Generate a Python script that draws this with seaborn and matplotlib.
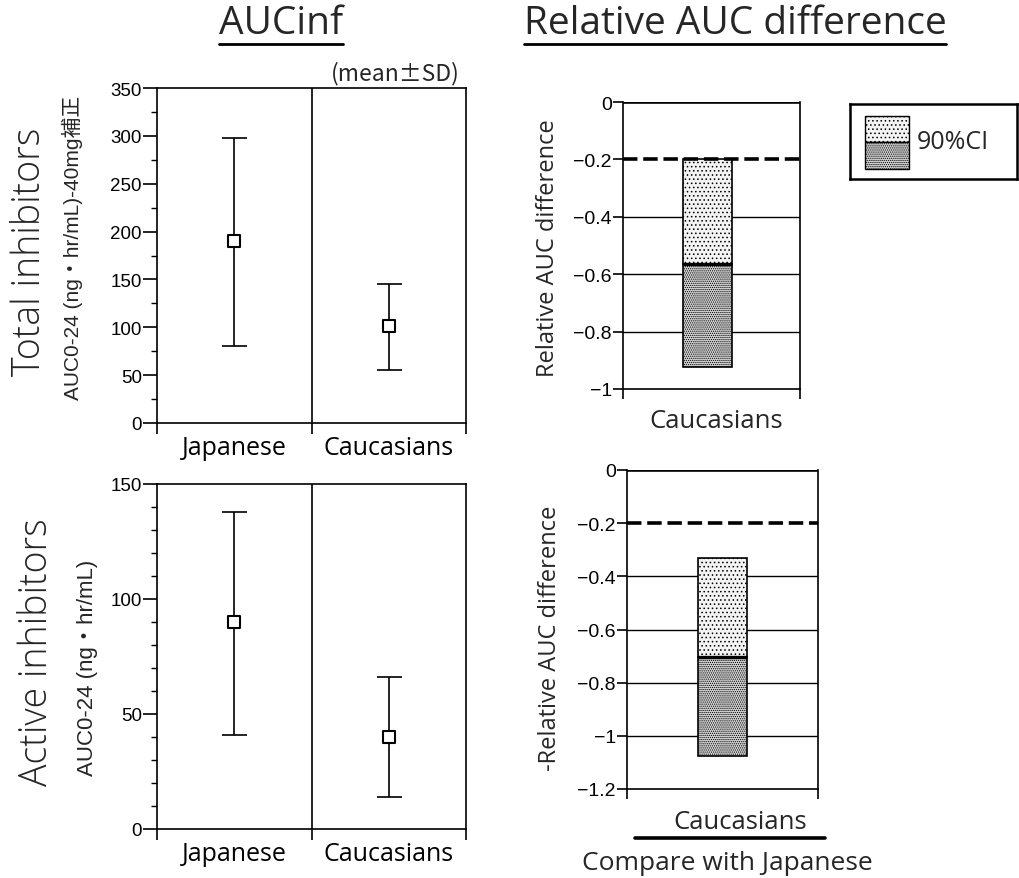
import numpy as np
import pandas as pd
import matplotlib
matplotlib.use("Agg")
import matplotlib.pyplot as plt
import seaborn as sns
from matplotlib.patches import Rectangle

# ---------------- data ----------------
groups = ["Japanese", "Caucasians"]
total_mean = [190, 101]
total_sd_low = [80, 55]
total_sd_high = [298, 145]
active_mean = [90, 40]
active_sd_low = [41, 14]
active_sd_high = [138, 66]

ci_group = ["Caucasians"]
total_ci_upper = [-0.20]
total_ci_point = [-0.565]
total_ci_lower = [-0.925]
active_ci_upper = [-0.33]
active_ci_point = [-0.705]
active_ci_lower = [-1.075]

total_yticks = [0, 50, 100, 150, 200, 250, 300, 350]
active_yticks = [0, 50, 100, 150]
rel_top_yticks = [0, -0.2, -0.4, -0.6, -0.8, -1]
rel_bot_yticks = [0, -0.2, -0.4, -0.6, -0.8, -1, -1.2]

# ---------------- style ----------------
sns.set_theme(style="white")
plt.rcParams["font.family"] = ["DejaVu Sans", "Noto Sans CJK JP"]
plt.rcParams["hatch.color"] = "#8a8a8a"
plt.rcParams["hatch.linewidth"] = 0.6
plt.rcParams["axes.edgecolor"] = "black"
plt.rcParams["xtick.color"] = "black"
plt.rcParams["ytick.color"] = "black"

W, H = 1020, 879
fig = plt.figure(figsize=(W / 100, H / 100), dpi=100)
fig.patch.set_facecolor("white")


def fx(x):
    return x / W


def fy(y):
    return 1 - y / H


def add_ax(l, t, r, b):
    return fig.add_axes([fx(l), fy(b), fx(r) - fx(l), fy(t) - fy(b)])


ui_font = ["Open Sans", "DejaVu Sans"]
tick_font = ["Liberation Sans", "DejaVu Sans"]
narrow_font = ["Liberation Sans Narrow", "Liberation Sans", "Noto Sans CJK JP"]


def left_panel(ax, means, lo, hi, ylim, yticks, minor_step):
    df = pd.DataFrame({"group": groups, "mean": means, "lo": lo, "hi": hi})
    df["x"] = np.arange(len(groups))
    ax.errorbar(df["x"], df["mean"],
                yerr=[df["mean"] - df["lo"], df["hi"] - df["mean"]],
                fmt="none", ecolor="black", elinewidth=1.2, capsize=9,
                capthick=1.2, zorder=2)
    sns.scatterplot(data=df, x="x", y="mean", ax=ax, marker="s", s=70,
                    color="white", edgecolor="black", linewidth=1.5,
                    zorder=3, legend=False)
    ax.set_xlim(-0.5, len(groups) - 0.5)
    ax.set_ylim(*ylim)
    ax.axvline(0.5, color="black", lw=1.2)
    ax.set_xticks([-0.5, 0.5, 1.5])
    ax.set_xticklabels([])
    ax.set_xticks(df["x"], minor=True)
    ax.set_xticklabels(groups, minor=True, fontsize=18, family=ui_font)
    ax.tick_params(axis="x", which="major", direction="out", length=8, width=1.2,
                   bottom=True)
    ax.tick_params(axis="x", which="minor", length=0, pad=9, bottom=True)
    ax.set_yticks(yticks)
    ax.set_yticklabels([str(v) for v in yticks], fontsize=13.5, family=tick_font)
    ax.set_yticks(np.arange(ylim[0], ylim[1] + 0.1, minor_step), minor=True)
    ax.tick_params(axis="y", which="major", direction="out", length=10, width=1.2,
                   left=True, pad=1)
    ax.tick_params(axis="y", which="minor", direction="out", length=4, width=1.0,
                   left=True)
    for s in ax.spines.values():
        s.set_linewidth(1.2)
        s.set_color("black")
    ax.set_xlabel("")
    ax.set_ylabel("")


def right_panel(ax, upper, point, lower, ylim, yticks, xlim):
    df = pd.DataFrame({"group": ci_group, "upper": upper, "point": point,
                       "lower": lower})
    df["x"] = np.arange(len(ci_group))
    for yv in yticks:
        if yv not in (0, -0.2, ylim[0]):
            ax.axhline(yv, color="black", lw=1.0, zorder=1)
    ax.axhline(0, color="black", lw=2.6, zorder=4)
    ax.axhline(-0.2, color="black", lw=2.6, ls=(0, (4, 1.6)), zorder=4)
    ax.bar(df["x"], df["point"] - df["upper"], bottom=df["upper"], width=0.5,
           facecolor="#f3f3f3", edgecolor="black", hatch="....", lw=1.2, zorder=3)
    ax.bar(df["x"], df["lower"] - df["point"], bottom=df["point"], width=0.5,
           facecolor="#d4d4d4", edgecolor="black", hatch="........", lw=1.2,
           zorder=3)
    ax.hlines(df["point"], df["x"] - 0.25, df["x"] + 0.25, color="black",
              lw=2.4, zorder=5)
    ax.set_xlim(*xlim)
    ax.set_ylim(*ylim)
    ax.set_yticks(yticks)
    ax.set_yticklabels([("0" if v == 0 else ("%g" % v).replace("-", "\u2212"))
                        for v in yticks], fontsize=14, family=tick_font)
    ax.tick_params(axis="y", direction="out", length=7, width=1.2, left=True,
                   pad=1)
    ax.set_xticks(list(xlim))
    ax.set_xticklabels([])
    ax.tick_params(axis="x", direction="out", length=7, width=1.2, bottom=True)
    ax.spines["top"].set_visible(False)
    for s in ("left", "right", "bottom"):
        ax.spines[s].set_linewidth(1.2)
        ax.spines[s].set_color("black")
    ax.set_xlabel("")
    ax.set_ylabel("")


# ---------------- panels ----------------
ax1 = add_ax(157, 89, 466, 424)
left_panel(ax1, total_mean, total_sd_low, total_sd_high, (0, 350),
           total_yticks, 25)

ax2 = add_ax(157, 485, 466, 830)
left_panel(ax2, active_mean, active_sd_low, active_sd_high, (0, 150),
           active_yticks, 10)

ax3 = add_ax(623, 103, 800, 390)
right_panel(ax3, total_ci_upper, total_ci_point, total_ci_lower, (-1, 0),
            rel_top_yticks, (-0.861, 0.944))

ax4 = add_ax(627, 471, 818, 790)
right_panel(ax4, active_ci_upper, active_ci_point, active_ci_lower, (-1.2, 0),
            rel_bot_yticks, (-0.973, 0.973))

# ---------------- texts ----------------
t1 = fig.text(fx(281), fy(34), "AUCinf", fontsize=28, ha="center",
              va="baseline", family=ui_font)
t2 = fig.text(fx(735), fy(34), "Relative AUC difference", fontsize=28,
              ha="center", va="baseline", family=ui_font)
fig.canvas.draw()
for t in (t1, t2):
    bb = t.get_window_extent()
    fig.add_artist(plt.Line2D([bb.x0 / W, bb.x1 / W], [fy(45), fy(45)],
                              color="black", lw=2.0))

fig.text(fx(395), fy(74), "(mean\u00b1SD)", fontsize=16.5, ha="center",
         va="center", family=["Noto Sans CJK JP", "DejaVu Sans"])

fig.text(fx(30), fy(252), "Total inhibitors", fontsize=27, rotation=90,
         ha="center", va="center", family=["Open Sans", "DejaVu Sans"],
         fontweight="light")
fig.text(fx(37), fy(652), "Active inhibitors", fontsize=27, rotation=90,
         ha="center", va="center", family=["Open Sans", "DejaVu Sans"],
         fontweight="light")

fig.text(fx(72), fy(248), "AUC0-24 (ng\u30fbhr/mL)-40mg補正", fontsize=15,
         rotation=90, ha="center", va="center", family=narrow_font)
fig.text(fx(88), fy(668), "AUC0-24 (ng\u30fbhr/mL)", fontsize=16,
         rotation=90, ha="center", va="center", family=narrow_font)

fig.text(fx(548), fy(248), "Relative AUC difference", fontsize=17,
         rotation=90, ha="center", va="center", family=ui_font)
fig.text(fx(550), fy(638), "-Relative AUC difference", fontsize=17,
         rotation=90, ha="center", va="center", family=ui_font)

fig.text(fx(716), fy(422), "Caucasians", fontsize=18.5, ha="center",
         va="center", family=ui_font)
fig.text(fx(740), fy(823), "Caucasians", fontsize=18.5, ha="center",
         va="center", family=ui_font)
fig.add_artist(plt.Line2D([fx(635), fx(825)], [fy(839), fy(839)],
                          color="black", lw=2.6))
fig.text(fx(727), fy(864), "Compare with Japanese", fontsize=19, ha="center",
         va="center", family=ui_font)

# ---------------- legend ----------------
lax = add_ax(850, 105, 1017, 180)
lax.set_xlim(0, 1)
lax.set_ylim(0, 1)
lax.set_xticks([])
lax.set_yticks([])
for s in lax.spines.values():
    s.set_linewidth(1.8)
    s.set_color("black")
lax.add_patch(Rectangle((0.09, 0.49), 0.265, 0.35, facecolor="#f3f3f3",
                        edgecolor="black", hatch="....", lw=1.0))
lax.add_patch(Rectangle((0.09, 0.14), 0.265, 0.35, facecolor="#d4d4d4",
                        edgecolor="black", hatch="........", lw=1.0))
lax.text(0.40, 0.50, "90%CI", fontsize=18, ha="left", va="center",
         family=ui_font)

fig.savefig("out.png", dpi=100, facecolor="white")
